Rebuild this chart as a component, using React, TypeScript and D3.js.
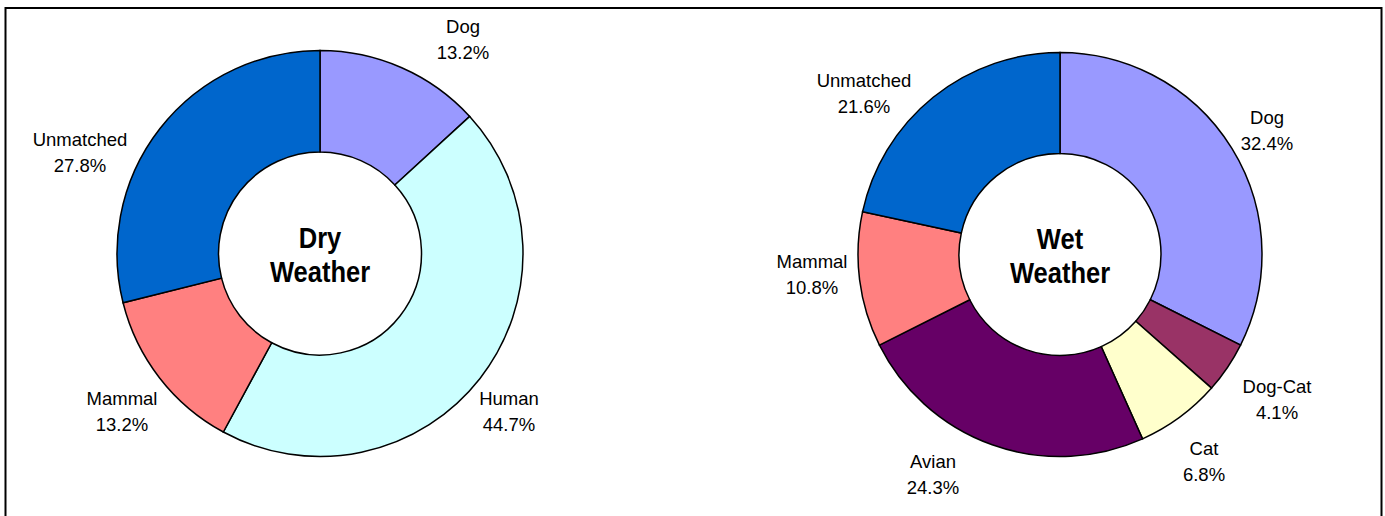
import React from "react";
import * as d3 from "d3";

const dryCategories = ["Dog", "Human", "Mammal", "Unmatched"];
const dryValues = [13.2, 44.7, 13.2, 27.8];
const wetCategories = ["Dog", "Dog-Cat", "Cat", "Avian", "Mammal", "Unmatched"];
const wetValues = [32.4, 4.1, 6.8, 24.3, 10.8, 21.6];

const colors: Record<string, string> = {
  Dog: "#9999FF",
  Human: "#CCFFFF",
  Mammal: "#FF8080",
  Unmatched: "#0066CC",
  "Dog-Cat": "#993366",
  Cat: "#FFFFCC",
  Avian: "#660066",
};

// label anchor positions (page coords) per chart
const dryLabelPos: Record<string, [number, number]> = {
  Dog: [463, 27],
  Human: [509, 399],
  Mammal: [122, 399],
  Unmatched: [80, 140],
};
const wetLabelPos: Record<string, [number, number]> = {
  Dog: [1267, 118],
  "Dog-Cat": [1277, 387],
  Cat: [1204, 449],
  Avian: [933, 462],
  Mammal: [812, 262],
  Unmatched: [864, 81],
};

function Donut({ cats, vals, cx, cy, r, title, labelPos }: any) {
  const total = d3.sum(vals as number[]);
  // slices are sized as percentages of 100; the last slice closes the ring
  const pie = d3
    .pie<number>()
    .sort(null)
    .value((d) => d)
    .endAngle((2 * Math.PI * total) / 100);
  const arcs = pie(vals);
  arcs[arcs.length - 1].endAngle = 2 * Math.PI;
  const arc = d3.arc<d3.PieArcDatum<number>>().innerRadius(r * 0.5).outerRadius(r);
  return (
    <g>
      <g transform={`translate(${cx},${cy})`}>
        {arcs.map((a, i) => (
          <path key={i} d={arc(a) || ""} fill={colors[cats[i]]} stroke="#000" strokeWidth={1.5} />
        ))}
        <g transform="scale(0.88,1)">
          <text textAnchor="middle" fontFamily="'Liberation Sans Narrow', 'Arial Narrow', 'Liberation Sans', Arial, sans-serif" fontWeight="bold" fontSize={29}>
            <tspan x={0} y={-6}>{title[0]}</tspan>
            <tspan x={0} y={29}>{title[1]}</tspan>
          </text>
        </g>
      </g>
      {cats.map((c: string, i: number) => {
        const [x, y] = labelPos[c];
        return (
          <text key={c} textAnchor="middle" fontFamily="'Liberation Sans', Arial, sans-serif" fontSize={18.5} fill="#000">
            <tspan x={x} y={y + 6}>{c}</tspan>
            <tspan x={x} y={y + 32}>{vals[i].toFixed(1)}%</tspan>
          </text>
        );
      })}
    </g>
  );
}

export default function App() {
  return (
    <svg width={1385} height={516} style={{ position: "absolute", left: 0, top: 0 }}>
      <rect x={0} y={0} width={1385} height={516} fill="#fff" />
      <rect x={5.5} y={8} width={1376} height={520} fill="none" stroke="#000" strokeWidth={2} />
      <Donut cats={dryCategories} vals={dryValues} cx={320} cy={253.5} r={203} title={["Dry", "Weather"]} labelPos={dryLabelPos} />
      <Donut cats={wetCategories} vals={wetValues} cx={1060} cy={254.5} r={202} title={["Wet", "Weather"]} labelPos={wetLabelPos} />
    </svg>
  );
}
